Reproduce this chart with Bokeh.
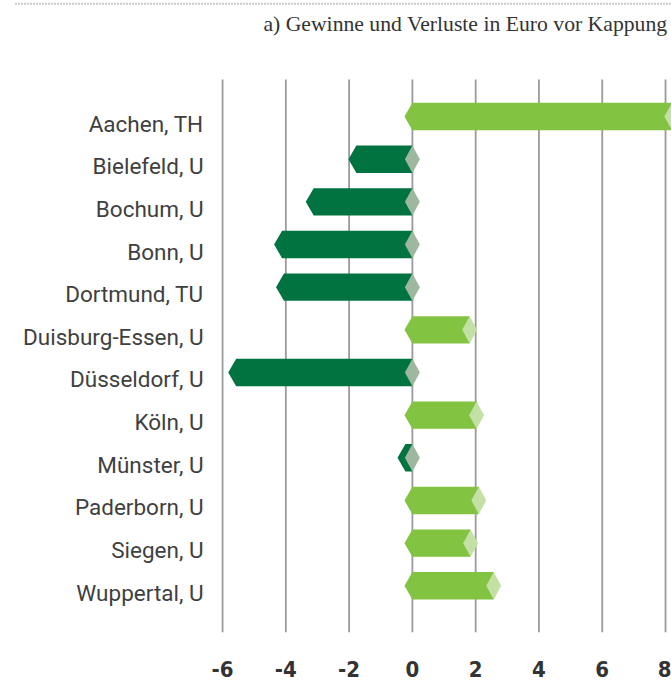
from bokeh.plotting import figure
from bokeh.models import Range1d, FixedTicker
from bokeh.core.properties import value
from bokeh.embed import file_html
from bokeh.resources import INLINE

# ---- data ----
categories = ["Aachen, TH", "Bielefeld, U", "Bochum, U", "Bonn, U", "Dortmund, TU",
              "Duisburg-Essen, U", "Düsseldorf, U", "Köln, U", "Münster, U",
              "Paderborn, U", "Siegen, U", "Wuppertal, U"]
values = [8.2, -1.77, -3.12, -4.12, -4.06, 1.81, -5.57, 2.03, -0.22, 2.1, 1.84, 2.57]
x_ticks = [-6, -4, -2, 0, 2, 4, 6, 8]
x_tick_labels = ["-6", "-4", "-2", "0", "2", "4", "6", "8"]
title_text = "a) Gewinne und Verluste in Euro vor Kappung"

# ---- style ----
LIGHT = "#82C341"
LIGHT_CAP = "#C4E1A5"
DARK = "#007341"
DARK_CAP = "#9DB89F"
H = 0.321    # half bar height (y units)
TIP = 0.25   # chevron tip length (x units)
D = 0.237    # cap half width (x units)

X0, X1 = -13.018, 8.189     # visible x range (frame spans full width)
Y0, Y1 = -1.095, 13.720     # visible y range
GRID_TOP = 11.87
LABEL_X = -6.60             # right edge of category labels
TITLE_X, TITLE_Y = 8.063, 13.158
DOT_X0, DOT_Y = -12.544, 13.643

n = len(categories)
ypos = [n - 1 - i for i in range(n)]

bar_xs, bar_ys, bar_col = [], [], []
cap_xs, cap_ys, cap_col = [], [], []
for v, y in zip(values, ypos):
    if v >= 0:
        bar_xs.append([-TIP, 0, v, v, 0])
        bar_col.append(LIGHT)
        c = v
        cap_col.append(LIGHT_CAP)
    else:
        bar_xs.append([v - TIP, v, 0, 0, v])
        bar_col.append(DARK)
        c = 0
        cap_col.append(DARK_CAP)
    bar_ys.append([y, y + H, y + H, y - H, y - H])
    cap_xs.append([c - D, c, c + D, c])
    cap_ys.append([y, y + H, y, y - H])

p = figure(width=671, height=683, output_backend="svg", toolbar_location=None,
           x_range=Range1d(X0, X1), y_range=Range1d(Y0, Y1),
           y_axis_location=None,
           min_border_left=0, min_border_right=0, min_border_top=0,
           min_border_bottom=51)
p.outline_line_color = None
p.background_fill_color = "white"
p.xgrid.visible = False
p.ygrid.visible = False

# vertical grid lines at the tick values
p.segment(x0=x_ticks, y0=[Y0] * len(x_ticks), x1=x_ticks, y1=[GRID_TOP] * len(x_ticks),
          line_color="#9a9a9a", line_width=1.8)

# x axis (tick labels only)
p.xaxis.ticker = FixedTicker(ticks=x_ticks)
p.xaxis.major_label_overrides = {t: s for t, s in zip(x_ticks, x_tick_labels)}
p.xaxis.axis_line_color = None
p.xaxis.major_tick_line_color = None
p.xaxis.minor_tick_line_color = None
p.xaxis.major_label_text_font = "DejaVu Sans Condensed"
p.xaxis.major_label_text_font_size = "22px"
p.xaxis.major_label_text_font_style = "bold"
p.xaxis.major_label_text_color = "#333333"
p.xaxis.major_label_standoff = 22

# bars and caps
p.patches(xs=bar_xs, ys=bar_ys, fill_color=bar_col, line_color=None)
p.patches(xs=cap_xs, ys=cap_ys, fill_color=cap_col, line_color=None)

# category labels
p.text(x=[LABEL_X] * n, y=ypos, text=categories, text_align="right",
       text_baseline="middle", y_offset=7, text_font=value("Roboto"),
       text_font_size="22.5px", text_color="#3f3f3f")

# heading and dotted rule
p.text(x=[TITLE_X], y=[TITLE_Y], text=[title_text], text_align="right",
       text_baseline="alphabetic", text_font=value("Liberation Serif"),
       text_font_size="21.7px", text_color="#333333")
p.segment(x0=[DOT_X0], y0=[DOT_Y], x1=[X1], y1=[DOT_Y], line_color="#999999",
          line_width=2, line_dash="1 2")

open("out.html", "w").write(file_html(p, INLINE))
